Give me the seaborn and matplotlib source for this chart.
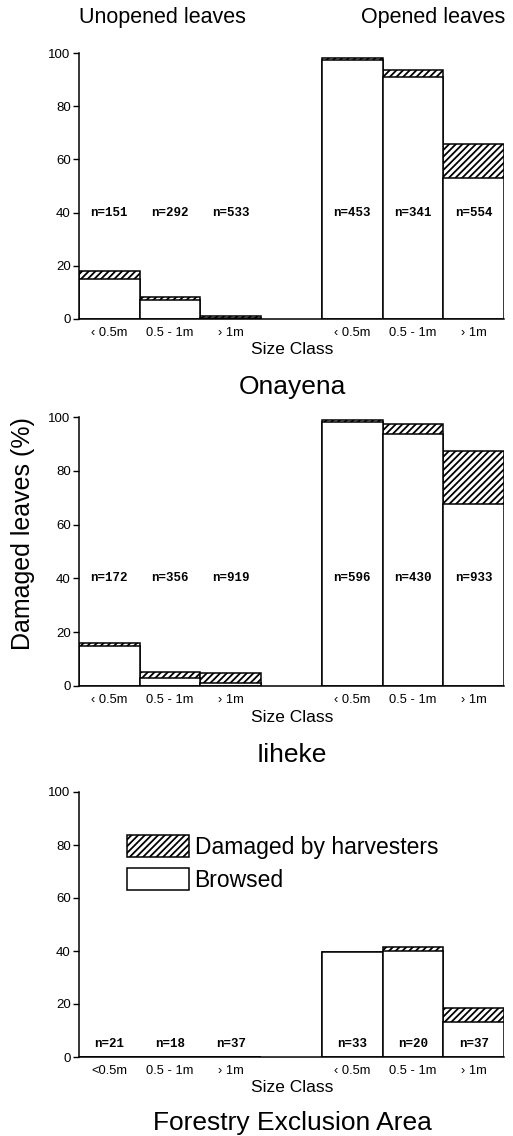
import matplotlib
matplotlib.use("Agg")
import matplotlib.pyplot as plt
import matplotlib.patches as mpatches
import pandas as pd
import seaborn as sns

# --- datos (% de hojas dañadas) ---
leaf_types = ["Unopened", "Unopened", "Unopened", "Opened", "Opened", "Opened"]
size_classes = ["<0.5m", "0.5-1m", ">1m", "<0.5m", "0.5-1m", ">1m"]

sites = ["Onayena", "Iiheke", "Forestry Exclusion Area"]

onayena_browsed = [15, 7, 0.3, 97.5, 91, 53]
onayena_harvest = [3, 1.2, 0.7, 0.5, 2.7, 12.7]
onayena_n = [151, 292, 533, 453, 341, 554]

iiheke_browsed = [15, 3, 1, 98, 93.5, 67.7]
iiheke_harvest = [1, 2.3, 3.8, 1, 4, 19.7]
iiheke_n = [172, 356, 919, 596, 430, 933]

forest_browsed = [0, 0, 0, 39.5, 40, 13.2]
forest_harvest = [0, 0, 0, 0.2, 1.5, 5.3]
forest_n = [21, 18, 37, 33, 20, 37]

xtick_labels = [
    ["\u2039 0.5m", "0.5 - 1m", "\u203a 1m", "\u2039 0.5m", "0.5 - 1m", "\u203a 1m"],
    ["\u2039 0.5m", "0.5 - 1m", "\u203a 1m", "\u2039 0.5m", "0.5 - 1m", "\u203a 1m"],
    ["<0.5m", "0.5 - 1m", "\u203a 1m", "\u2039 0.5m", "0.5 - 1m", "\u203a 1m"],
]

panel_data = [
    (onayena_browsed, onayena_harvest, onayena_n),
    (iiheke_browsed, iiheke_harvest, iiheke_n),
    (forest_browsed, forest_harvest, forest_n),
]

sns.set_style("ticks")
plt.rcParams["font.family"] = ["Liberation Sans", "DejaVu Sans"]
plt.rcParams["hatch.linewidth"] = 1.3
for clave in ["text.color", "axes.labelcolor", "xtick.color", "ytick.color", "axes.edgecolor"]:
    plt.rcParams[clave] = "black"

RAYADO = "/////"

W, H = 513, 1136
fig = plt.figure(figsize=(W / 100, H / 100), dpi=100)

# posiciones de los paneles en píxeles (arriba, abajo)
paneles_px = [(53, 319), (417, 686), (792, 1057)]
left_px, right_px = 79, 504
titulos_y = [387, 755, 1123]
sizeclass_y = [350, 718, 1088]
n_y = [40, 40, 5]

for k, (browsed, harvest, n_vals) in enumerate(panel_data):
    top, bottom = paneles_px[k]
    ax = fig.add_axes([left_px / W, 1 - bottom / H,
                       (right_px - left_px) / W, (bottom - top) / H])

    df = pd.DataFrame({
        "cat": [f"{l} {s}" for l, s in zip(leaf_types, size_classes)],
        "browsed": browsed,
        "total": [b + h for b, h in zip(browsed, harvest)],
    })
    orden = list(df["cat"][:3]) + ["gap"] + list(df["cat"][3:])

    # total (rayado) y encima la parte ramoneada (blanca)
    sns.barplot(data=df, x="cat", y="total", order=orden, color="white",
                saturation=1, edgecolor="black", linewidth=1.1, hatch=RAYADO,
                width=1, errorbar=None, ax=ax)
    sns.barplot(data=df, x="cat", y="browsed", order=orden, color="white",
                saturation=1, edgecolor="black", linewidth=1.1,
                width=1, errorbar=None, ax=ax)

    ax.set_xlim(-0.5, 6.5)
    ax.set_ylim(0, 100)
    ax.set_yticks([0, 20, 40, 60, 80, 100])
    posiciones = [0, 1, 2, 4, 5, 6]
    ax.set_xticks(posiciones)
    ax.set_xticklabels(xtick_labels[k], fontsize=9.3)
    ax.tick_params(axis="x", length=0, pad=6)
    ax.tick_params(axis="y", length=4, width=1, labelsize=9.5, pad=2)
    ax.set_xlabel("")
    ax.set_ylabel("")
    for lado in ["top", "right"]:
        ax.spines[lado].set_visible(False)
    for lado in ["left", "bottom"]:
        ax.spines[lado].set_linewidth(1.1)

    for p, n in zip(posiciones, n_vals):
        ax.text(p, n_y[k], f"n={n}", ha="center", va="center",
                family="Liberation Mono", weight="bold", fontsize=9)

    fig.text(292 / W, 1 - sizeclass_y[k] / H, "Size Class",
             ha="center", va="center", fontsize=12.5)
    fig.text(292 / W, 1 - titulos_y[k] / H, sites[k],
             ha="center", va="center", fontsize=19)

fig.text(162 / W, 1 - 17 / H, "Unopened leaves", ha="center", va="center", fontsize=15.5)
fig.text(433 / W, 1 - 17 / H, "Opened leaves", ha="center", va="center", fontsize=15.5)
fig.text(23 / W, 1 - 534 / H, "Damaged leaves (%)", rotation=90,
         ha="center", va="center", fontsize=18)

handles = [
    mpatches.Patch(facecolor="white", edgecolor="black", hatch=RAYADO,
                   linewidth=1.1, label="Damaged by harvesters"),
    mpatches.Patch(facecolor="white", edgecolor="black", linewidth=1.1,
                   label="Browsed"),
]
fig.legend(handles=handles, loc="upper left",
           bbox_to_anchor=(127 / W, 1 - 835 / H), frameon=False,
           borderpad=0, borderaxespad=0, handlelength=2.7, handleheight=1.1,
           handletextpad=0.25, labelspacing=0.4, fontsize=16.5)

fig.savefig("out.png", dpi=100)
plt.close()
